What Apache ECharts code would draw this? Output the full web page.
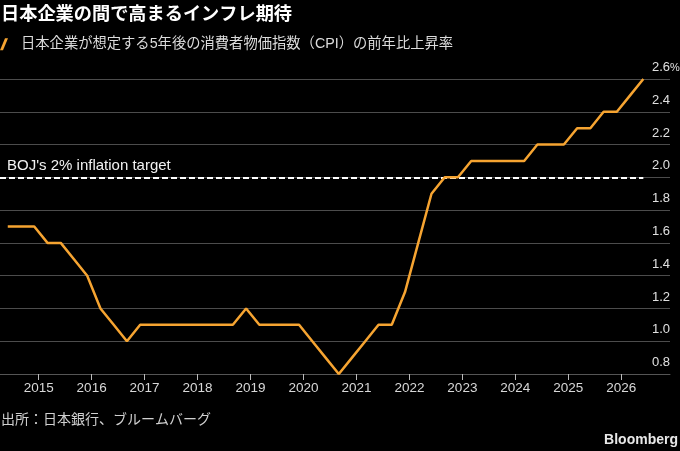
<!DOCTYPE html>
<html>
<head>
<meta charset="utf-8">
<script src="https://cdn.jsdelivr.net/npm/echarts@6.0.0/dist/echarts.min.js"></script>
<style>
  html, body { margin: 0; padding: 0; background: #000; }
  #chart { width: 680px; height: 451px; }
</style>
</head>
<body>
<div id="chart"></div>
<script>
// 短観の四半期（調査月）
const quarters = [
  '2014-06', '2014-09', '2014-12',
  '2015-03', '2015-06', '2015-09', '2015-12',
  '2016-03', '2016-06', '2016-09', '2016-12',
  '2017-03', '2017-06', '2017-09', '2017-12',
  '2018-03', '2018-06', '2018-09', '2018-12',
  '2019-03', '2019-06', '2019-09', '2019-12',
  '2020-03', '2020-06', '2020-09', '2020-12',
  '2021-03', '2021-06', '2021-09', '2021-12',
  '2022-03', '2022-06', '2022-09', '2022-12',
  '2023-03', '2023-06', '2023-09', '2023-12',
  '2024-03', '2024-06', '2024-09', '2024-12',
  '2025-03', '2025-06', '2025-09', '2025-12',
  '2026-03', '2026-06'
];
// 5年後の物価見通し（%）
const expectation = [
  1.7, 1.7, 1.7,
  1.6, 1.6, 1.5, 1.4,
  1.2, 1.1, 1.0, 1.1,
  1.1, 1.1, 1.1, 1.1,
  1.1, 1.1, 1.1, 1.2,
  1.1, 1.1, 1.1, 1.1,
  1.0, 0.9, 0.8, 0.9,
  1.0, 1.1, 1.1, 1.3,
  1.6, 1.9, 2.0, 2.0,
  2.1, 2.1, 2.1, 2.1,
  2.1, 2.2, 2.2, 2.2,
  2.3, 2.3, 2.4, 2.4,
  2.5, 2.6
];
const yearTicks = [2015, 2016, 2017, 2018, 2019, 2020, 2021, 2022, 2023, 2024, 2025, 2026];
const bojTarget = 2.0;

const seriesName = '日本企業が想定する5年後の消費者物価指数（CPI）の前年比上昇率';
const font = "'Liberation Sans', 'Noto Sans CJK JP', sans-serif";
const orange = '#f6a431';

// 'YYYY-MM' -> 小数の年
function toYear(s) {
  const [y, m] = s.split('-').map(Number);
  return y + (m - 1) / 12;
}
const points = quarters.map((q, i) => [toYear(q), expectation[i]]);
const xMin = 2014.27;
const xMax = 2026.92;

const chart = echarts.init(document.getElementById('chart'));
chart.setOption({
  backgroundColor: '#000',
  animation: false,
  textStyle: { fontFamily: font },
  title: [
    {
      text: '日本企業の間で高まるインフレ期待',
      left: 1, top: 6, padding: 0,
      textStyle: { color: '#fff', fontSize: 18.2, fontWeight: 'bold', fontFamily: font }
    },
    {
      text: '出所：日本銀行、ブルームバーグ',
      left: 1, top: 413, padding: 0,
      textStyle: { color: '#d0d0d0', fontSize: 14, fontWeight: 'normal', fontFamily: font }
    },
    {
      text: 'Bloomberg',
      right: 2, top: 433, padding: 0,
      textStyle: { color: '#e8e8e8', fontSize: 14, fontWeight: 'bold', fontFamily: font }
    }
  ],
  legend: {
    left: 0, top: 37, padding: 0,
    itemWidth: 8, itemHeight: 12,
    icon: 'path://M0,12 L5,0 L8,0 L3,12 Z',
    textStyle: { color: '#dcdcdc', fontSize: 14.3, padding: [0, 0, 0, 8], fontFamily: font },
    data: [{ name: seriesName, itemStyle: { color: orange } }]
  },
  grid: { left: 0, right: 10, top: 79, bottom: 77, containLabel: false, outerBoundsMode: 'none' },
  xAxis: {
    type: 'value',
    min: xMin, max: xMax,
    axisLine: { show: true, lineStyle: { color: '#555', width: 1 } },
    axisTick: { show: true, length: 6, lineStyle: { color: '#bbb' }, customValues: yearTicks },
    axisLabel: {
      color: '#d8d8d8', fontSize: 13.5, margin: 8,
      customValues: yearTicks,
      formatter: v => String(Math.round(v))
    },
    splitLine: { show: false }
  },
  yAxis: {
    type: 'value',
    position: 'right',
    min: 0.8, max: 2.6, interval: 0.2,
    axisLine: { show: false },
    axisTick: { show: false },
    splitLine: { lineStyle: { color: '#4c4c4c', width: 1 } },
    axisLabel: {
      inside: true, margin: 0,
      verticalAlign: 'bottom',
      padding: [0, 0, 5, 0],
      color: '#e0e0e0', fontSize: 13,
      formatter: v => {
        const s = v.toFixed(1);
        return Math.abs(v - 2.6) < 1e-6 ? '{n|' + s + '}{p|%}' : '{n|' + s + '}';
      },
      // 「%」は目盛りの右外にはみ出す
      rich: {
        n: { color: '#e0e0e0', fontSize: 13, fontFamily: font, align: 'left' },
        p: { color: '#e0e0e0', fontSize: 11, fontFamily: font, width: 0, align: 'left' }
      }
    }
  },
  series: [
    {
      name: seriesName,
      type: 'line',
      data: points,
      showSymbol: false,
      z: 3,
      lineStyle: { color: orange, width: 2.5 },
      itemStyle: { color: orange },
      markLine: {
        silent: true,
        symbol: 'none',
        z: 2,
        lineStyle: { color: '#fff', type: [6, 3], width: 2 },
        label: {
          show: true,
          position: 'insideStartTop',
          distance: [7, 4],
          formatter: "BOJ's 2% inflation target",
          color: '#f2f2f2', fontSize: 15, fontFamily: font
        },
        data: [[
          { coord: [xMin, bojTarget] },
          { coord: [points[points.length - 1][0], bojTarget] }
        ]]
      }
    }
  ]
});
</script>
</body>
</html>
